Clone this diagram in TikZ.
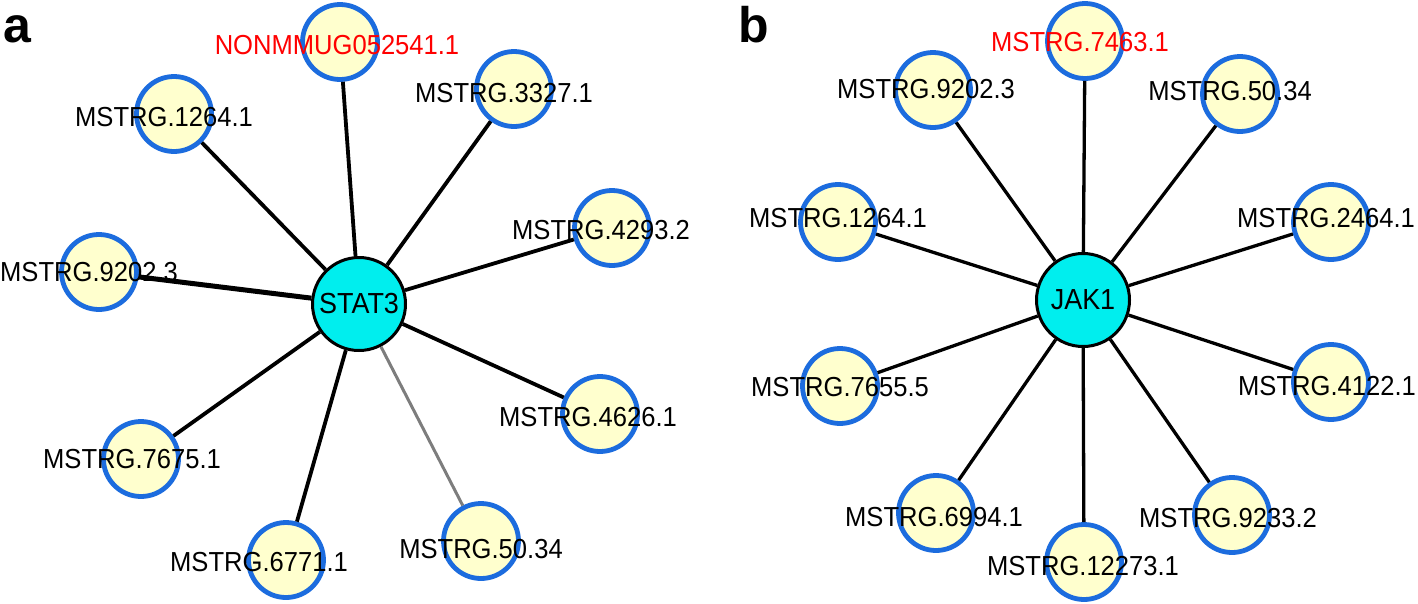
\documentclass[tikz,border=0pt]{standalone}
\usepackage{fontspec}
\setmainfont{Liberation Sans}
\newfontfamily\tallsans[FakeStretch=0.93]{Liberation Sans}
\usetikzlibrary{positioning}
\definecolor{hubcyan}{RGB}{0,238,238}
\definecolor{leafyellow}{RGB}{255,255,206}
\definecolor{leafblue}{RGB}{28,108,222}
\definecolor{edgegray}{RGB}{125,125,125}

\begin{document}
\begin{tikzpicture}[x=1pt,y=-1pt]
		\tikzset{hub/.style={circle,draw=black,line width=3pt,fill=hubcyan,minimum size=93pt,inner sep=0pt,font=\tallsans\fontsize{29}{31}\selectfont},
			leaf/.style={circle,draw=leafblue,line width=4.8pt,fill=leafyellow,minimum size=75pt,inner sep=0pt},
			lab/.style={inner sep=0pt,font=\tallsans\fontsize{27.5}{29}\selectfont},
			panel/.style={anchor=base west,inner sep=0pt,font=\fontsize{50}{50}\selectfont\bfseries},
			link/.style={line width=3.8pt}}
		\useasboundingbox (0,0) rectangle (1418,603);
		\node[panel] (pa) at (3,42) {a};
		\node[panel] (pb) at (738,42) {b};
		% panel a
		\node[hub] (stat) at (359,304) {STAT3};
		\node[leaf] (a1) at (340,42) {};
		\node[leaf] (a2) at (514,89) {};
		\node[leaf] (a3) at (174,114) {};
		\node[leaf] (a4) at (612,228) {};
		\node[leaf] (a5) at (99,272) {};
		\node[leaf] (a6) at (600,414) {};
		\node[leaf] (a7) at (141,459) {};
		\node[leaf] (a8) at (286,560) {};
		\node[leaf] (a9) at (481,541) {};
		\foreach \n in {a1,a2,a3,a4,a6,a7,a8}
			\draw[link] (stat) -- (\n);
		\draw[link,line width=5pt] (stat) -- (a5);
		\draw[link,edgegray,line width=3pt] (stat) -- (a9);
		\node[lab,red] (la1) at (337,45) {NONMMUG052541.1};
		\node[lab] (la2) at (504,93) {MSTRG.3327.1};
		\node[lab] (la3) at (164,117) {MSTRG.1264.1};
		\node[lab] (la4) at (601,230) {MSTRG.4293.2};
		\node[lab] (la5) at (89,272) {MSTRG.9202.3};
		\node[lab] (la6) at (588,417) {MSTRG.4626.1};
		\node[lab] (la7) at (132,459) {MSTRG.7675.1};
		\node[lab] (la8) at (259,562) {MSTRG.6771.1};
		\node[lab] (la9) at (481,549) {MSTRG.50.34};
		% panel b
		\node[hub] (jak) at (1083,300) {JAK1};
		\node[leaf] (b1) at (1085,41) {};
		\node[leaf] (b2) at (933,90) {};
		\node[leaf] (b3) at (1240,94) {};
		\node[leaf] (b4) at (838,222) {};
		\node[leaf] (b5) at (1331,222) {};
		\node[leaf] (b6) at (840,386) {};
		\node[leaf] (b7) at (1331,382) {};
		\node[leaf] (b8) at (936,513) {};
		\node[leaf] (b9) at (1084,562) {};
		\node[leaf] (b10) at (1232,515) {};
		\foreach \n in {b1,b2,b3,b4,b5,b6,b7,b8,b9,b10}
			\draw[link,line width=3.3pt] (jak) -- (\n);
		\node[lab,red] (lb1) at (1080,42) {MSTRG.7463.1};
		\node[lab] (lb2) at (926,89) {MSTRG.9202.3};
		\node[lab] (lb3) at (1230,91) {MSTRG.50.34};
		\node[lab] (lb4) at (838,218) {MSTRG.1264.1};
		\node[lab] (lb5) at (1326,218) {MSTRG.2464.1};
		\node[lab] (lb6) at (840,387) {MSTRG.7655.5};
		\node[lab] (lb7) at (1327,386) {MSTRG.4122.1};
		\node[lab] (lb8) at (934,517) {MSTRG.6994.1};
		\node[lab] (lb9) at (1083,566) {MSTRG.12273.1};
		\node[lab] (lb10) at (1228,518) {MSTRG.9233.2};
	\end{tikzpicture}
\end{document}
